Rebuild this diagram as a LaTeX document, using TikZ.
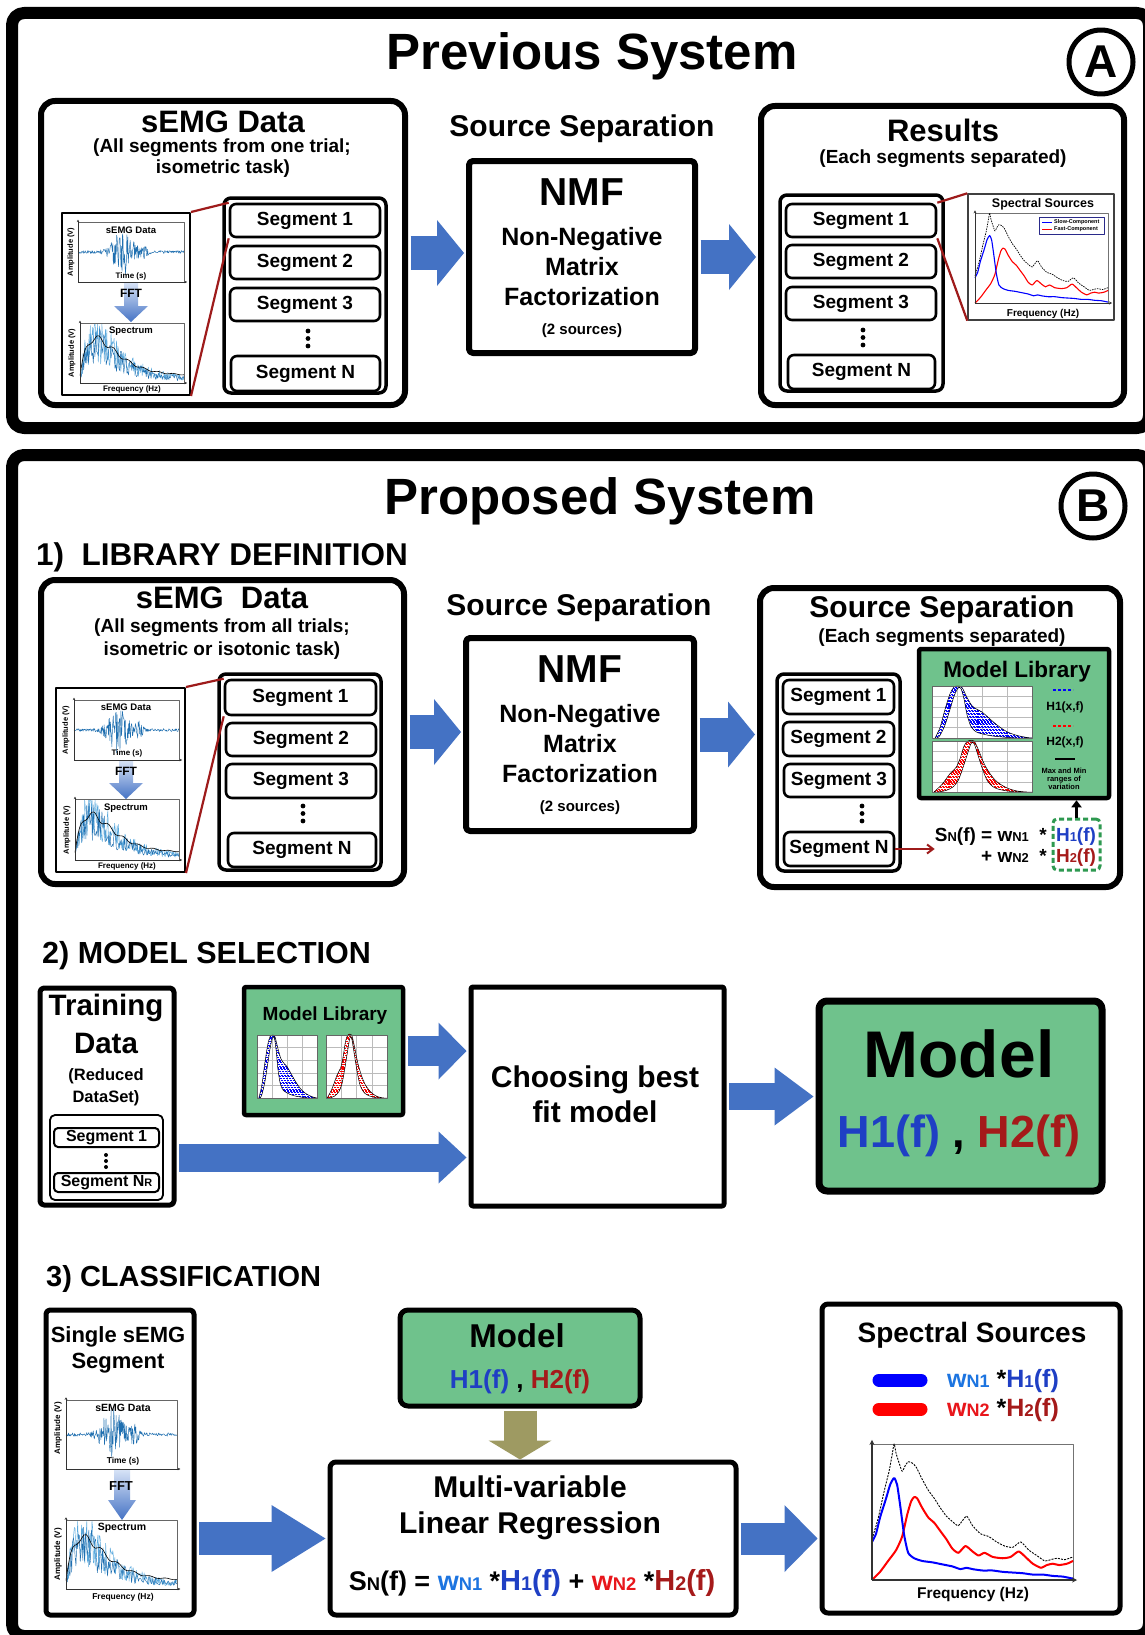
\documentclass[tikz,border=0pt]{standalone}
\usepackage{fontspec}
\setmainfont{Liberation Sans}
\usetikzlibrary{arrows.meta,calc}

\definecolor{arrowblue}{HTML}{4472C4}
\definecolor{fftlight}{HTML}{D6E2F6}
\definecolor{libgreen}{HTML}{6FC28C}
\definecolor{dashgreen}{HTML}{2E9950}
\definecolor{linkred}{HTML}{9E1B1B}
\definecolor{hblue}{HTML}{1F3FC4}
\definecolor{wblue}{HTML}{1C74E0}
\definecolor{hred}{HTML}{A51A1A}
\definecolor{wred}{HTML}{E8161B}
\definecolor{arrowolive}{HTML}{9E9A62}
\definecolor{sigblue}{HTML}{1F6FB0}
\definecolor{sigblue2}{HTML}{5AA9DD}
\definecolor{gridgray}{HTML}{BBBBBB}
\definecolor{legnavy}{HTML}{2A2A8A}

\newcommand\fsz[2]{\fontsize{#1}{#2}\selectfont\bfseries}
\newcommand\lowsc[1]{\scalebox{0.68}{#1}}

% rectangle node given by its border centre-line corners
\newcommand\boxnode[7][]{%
  \pgfmathsetmacro\rbW{#5-#3}\pgfmathsetmacro\rbH{#6-#4}%
  \node[#1, minimum width=\rbW pt, minimum height=\rbH pt, inner sep=0pt] (#2) at ({(#3+#5)/2},{(#4+#6)/2}) {#7};}

% raw sEMG trace: x-left, y-bottom, width, height, seed
\newcommand\emgpanel[5]{%
  \begin{scope}[shift={(#1,#2)}, xscale=#3, yscale=-#4]
    \pgfmathsetseed{#5}
    \draw[sigblue, line width=0.45pt] plot[domain=0:1, samples=220]
      (\x,{0.5+(0.025+0.36*exp(-((\x-0.42)/0.11)^2)+0.12*exp(-((\x-0.62)/0.04)^2))*rand});
    \draw[black!60, line width=0.6pt] (0,0) rectangle (1,1);
    \draw[black!80, line width=0.6pt, -{Stealth[length=2.5pt,width=2.5pt]}] (0,0) -- (0,1.04);
    \draw[black!80, line width=0.6pt, -{Stealth[length=2.5pt,width=2.5pt]}] (0,0) -- (1.03,0);
  \end{scope}}

% amplitude spectrum: x-left, y-bottom, width, height, seed
\newcommand\specpanel[5]{%
  \begin{scope}[shift={(#1,#2)}, xscale=#3, yscale=-#4]
    \pgfmathsetseed{#5}
    \draw[sigblue2, line width=0.45pt] plot[domain=0.005:1, samples=170]
      (\x,{min(0.98,spenv(\x)*(1+0.55*rand))});
    \draw[sigblue, line width=0.45pt] plot[domain=0.005:1, samples=130]
      (\x,{min(0.98,spenv(\x)*(0.85+0.45*rand))});
    \draw[black, line width=0.6pt] plot[smooth, domain=0:1, samples=50]
      (\x,{0.05+spenv(\x)*(0.95+0.08*sin(\x*2500))});
    \draw[black!60, line width=0.6pt] (0,0) rectangle (1,1);
    \draw[black!80, line width=0.6pt, -{Stealth[length=2.5pt,width=2.5pt]}] (0,0) -- (0,1.04);
    \draw[black!80, line width=0.6pt, -{Stealth[length=2.5pt,width=2.5pt]}] (0,0) -- (1.03,0);
  \end{scope}}

% shaded FFT arrow: centre x, top, tip, shaft half width, head half width, head length
\newcommand\fftarrow[6]{%
  \shade[top color=fftlight, bottom color=arrowblue]
    ({#1-#4},#2) -- ({#1+#4},#2) -- ({#1+#4},{#3-#6}) -- ({#1+#5},{#3-#6})
    -- (#1,#3) -- ({#1-#5},{#3-#6}) -- ({#1-#4},{#3-#6}) -- cycle;}

% variation bands of the two spectral models (outer envelope, then inner envelope back)
\newcommand\bandA[1]{\path[#1]
  plot[smooth,tension=0.5] coordinates {(0.03,0) (0.08,0.2) (0.13,0.55) (0.18,0.85) (0.22,0.98) (0.26,1)
    (0.3,0.97) (0.35,0.78) (0.4,0.62) (0.45,0.55) (0.5,0.5) (0.56,0.4) (0.65,0.25) (0.75,0.12) (0.85,0.05)
    (0.95,0.01) (1,0)}
  -- plot[smooth,tension=0.5] coordinates {(1,0) (0.85,0) (0.7,0.02) (0.6,0.04) (0.5,0.08) (0.44,0.12)
    (0.39,0.22) (0.35,0.45) (0.32,0.75) (0.29,0.95) (0.26,0.96) (0.22,0.8) (0.18,0.55) (0.13,0.25)
    (0.08,0.05) (0.05,0)}
  -- cycle;}
\newcommand\bandB[1]{\path[#1]
  plot[smooth,tension=0.5] coordinates {(0.02,0) (0.1,0.15) (0.18,0.36) (0.24,0.48) (0.28,0.65) (0.32,0.9)
    (0.36,1) (0.42,1) (0.47,0.8) (0.52,0.56) (0.58,0.36) (0.65,0.2) (0.75,0.08) (0.85,0.02) (0.95,0) (1,0)}
  -- plot[smooth,tension=0.5] coordinates {(1,0) (0.85,0) (0.72,0.03) (0.63,0.08) (0.56,0.2) (0.51,0.42)
    (0.46,0.72) (0.42,0.95) (0.39,0.95) (0.35,0.72) (0.3,0.42) (0.26,0.22) (0.21,0.1) (0.14,0.03) (0.06,0)}
  -- cycle;}

% model library chart: x-left, y-bottom, width, height, colour, band
\newcommand\libplot[6]{%
  \begin{scope}[shift={(#1,#2)}, xscale=#3, yscale=-#4]
    \fill[white] (0,0) rectangle (1,1);
    \foreach \g in {0.25,0.5,0.75} \draw[gridgray, line width=0.4pt] (\g,0) -- (\g,1);
    \foreach \g in {0.2,0.4,0.6,0.8} \draw[gridgray, line width=0.4pt] (0,\g) -- (1,\g);
    \begin{scope}
      #6{clip}
      \foreach \h [count=\i] in {0,0.028,...,1.02}{
        \pgfmathsetmacro\hph{mod(\i,3)*0.95}
        \draw[#5, line width=1.1pt, dash pattern=on 2pt off 0.9pt, dash phase=\hph pt] (0,\h) -- (1,\h);}
    \end{scope}
    #6{draw=black, line width=0.5pt}
    \draw[black!60, line width=0.6pt] (0,0) rectangle (1,1);
  \end{scope}}

% separated spectral sources
\newcommand\slowcurve[1]{\draw[#1] plot[smooth, tension=0.35] coordinates {(0,0.28) (0.02,0.34) (0.04,0.46)
  (0.07,0.6) (0.09,0.7) (0.11,0.75) (0.125,0.7) (0.14,0.55) (0.16,0.33) (0.18,0.2) (0.21,0.16) (0.25,0.14)
  (0.3,0.13) (0.35,0.115) (0.4,0.1) (0.44,0.08) (0.47,0.09) (0.5,0.08) (0.55,0.07) (0.6,0.07) (0.65,0.06)
  (0.7,0.055) (0.75,0.05) (0.8,0.04) (0.85,0.04) (0.9,0.03) (0.95,0.025) (1,0.01)};}
\newcommand\fastcurve[1]{\draw[#1] plot[smooth, tension=0.35] coordinates {(0,0) (0.04,0.06) (0.08,0.14)
  (0.12,0.22) (0.15,0.32) (0.175,0.48) (0.195,0.58) (0.21,0.61) (0.225,0.6) (0.25,0.53) (0.28,0.46)
  (0.31,0.42) (0.34,0.36) (0.37,0.3) (0.4,0.23) (0.43,0.2) (0.465,0.25) (0.5,0.21) (0.53,0.18) (0.56,0.2)
  (0.6,0.17) (0.65,0.16) (0.69,0.17) (0.73,0.21) (0.77,0.16) (0.8,0.12) (0.84,0.09) (0.87,0.11) (0.9,0.12)
  (0.93,0.11) (0.97,0.12) (1,0.14)};}
\newcommand\sumcurve[1]{\draw[#1] plot[smooth, tension=0.35] coordinates {(0,0.3) (0.03,0.45) (0.06,0.65)
  (0.085,0.8) (0.1,0.92) (0.11,1.0) (0.12,0.93) (0.135,0.86) (0.15,0.8) (0.165,0.84) (0.18,0.87) (0.2,0.86)
  (0.22,0.83) (0.25,0.74) (0.28,0.66) (0.31,0.6) (0.34,0.53) (0.37,0.47) (0.4,0.43) (0.43,0.4) (0.47,0.47)
  (0.5,0.4) (0.54,0.34) (0.58,0.32) (0.62,0.28) (0.66,0.25) (0.7,0.24) (0.74,0.28) (0.78,0.22) (0.82,0.18)
  (0.86,0.14) (0.89,0.15) (0.92,0.16) (0.96,0.15) (1,0.17)};}

\begin{document}
\begin{tikzpicture}[x=1pt, y=-1pt, line join=round,
  declare function={spenv(\t)=0.08+0.65*(\t/0.15)*exp(1-\t/0.15);},
  frame/.style={draw=black, line width=12pt, rounded corners=12pt},
  bigbox/.style={draw=black, line width=6pt, rounded corners=14pt, fill=white},
  sqbox/.style={draw=black, line width=5pt, rounded corners=4pt, fill=white},
  stackbox/.style={draw=black, line width=3.5pt, rounded corners=7pt},
  segbox/.style={draw=black, line width=2.6pt, rounded corners=6pt, font=\fsz{19}{22}},
  smallseg/.style={draw=black, line width=2pt, rounded corners=4pt, font=\fsz{16}{19}},
  thinstack/.style={draw=black, line width=1.8pt, rounded corners=5pt},
  insetbox/.style={draw=black, line width=2pt, fill=white},
  thinbox/.style={draw=black!75, line width=1.4pt, fill=white},
  libbox/.style={draw=black, line width=4.5pt, fill=libgreen, rounded corners=2pt},
  link/.style={draw=linkred, line width=2.2pt},
  txt/.style={inner sep=0pt, anchor=base},
  lbl/.style={inner sep=0pt},
  letterring/.style={circle, draw=black, line width=5pt, minimum size=64pt, inner sep=0pt, font=\fsz{46}{46}},
  barrow/.style n args={3}{draw=arrowblue, line width=#1pt, shorten <=2.5pt, shorten >=2pt,
    -{Triangle[length=#2pt, width=#3pt, line width=0pt]}},
  oarrow/.style={draw=arrowolive, line width=33pt, shorten <=2pt,
    -{Triangle[length=19pt, width=63pt, line width=0pt]}},
  dotfill/.style={fill=black}]

\useasboundingbox (0,0) rectangle (1145,1635);
\fill[white] (0,0) rectangle (1145,1635);

% ---------------- frames
\draw[frame] (12,13) rectangle (1149,428);
\draw[frame] (12,455) rectangle (1149,1636);

% ================= A: previous system
\node[txt, font=\fsz{51}{60}] (titleA) at (592,70) {Previous System};
\node[letterring] (markA) at (1101,62) {A};

% sEMG data
\boxnode[bigbox]{semgA}{41}{101}{405}{405}{}
\node[txt, font=\fsz{31}{36}] (semgAt) at (223,132) {sEMG Data};
\node[txt, font=\fsz{19}{22}] (semgAs1) at (222,153) {(All segments from one trial;};
\node[txt, font=\fsz{19}{22}] (semgAs2) at (223,173) {isometric task)};
\boxnode[insetbox]{insA}{62}{213}{190}{395}{}
\emgpanel{78}{282}{106}{60}{3}
\node[lbl, font=\fsz{9.5}{11}] (insAe) at (131,230) {sEMG Data};
\node[lbl, font=\fsz{8}{9}] (insAt) at (131,276) {Time (s)};
\node[lbl, rotate=90, font=\fsz{7.5}{9}] (insAa) at (71,252) {Amplitude (V)};
\fftarrow{131}{283}{322}{7}{17}{16}
\node[lbl, font=\fsz{12}{14}] (insAf) at (131,293) {FFT};
\specpanel{80}{383}{104}{60}{5}
\node[lbl, font=\fsz{9.5}{11}] (insAs) at (131,331) {Spectrum};
\node[lbl, font=\fsz{8}{9}] (insAq) at (132,389) {Frequency (Hz)};
\node[lbl, rotate=90, font=\fsz{7.5}{9}] (insAb) at (72,353) {Amplitude (V)};

\boxnode[stackbox]{stackA}{224}{198}{386}{393}{}
\boxnode[segbox]{segA1}{230}{204}{380}{237}{Segment 1}
\boxnode[segbox]{segA2}{230}{246}{380}{279}{Segment 2}
\boxnode[segbox]{segA3}{230}{288}{380}{321}{Segment 3}
\boxnode[segbox]{segAN}{231}{356}{380}{391}{Segment N}
\fill[dotfill] (308,331) circle[radius=2.4pt] (308,338.5) circle[radius=2.4pt] (308,346) circle[radius=2.4pt];
\draw[link] (insA.north east) -- (segA1.north west);
\draw[link] (insA.south east) -- (segA1.south west);

% NMF
\node[txt, font=\fsz{30}{36}] (ssA) at (582,137) {Source Separation};
\boxnode[sqbox, line width=6pt]{nmfA}{469}{161}{695}{353}{}
\node[txt, font=\fsz{39}{44}] (nmfAt) at (582,205) {NMF};
\node[txt, font=\fsz{25}{30}] (nmfA1) at (582,245) {Non-Negative};
\node[txt, font=\fsz{25}{30}] (nmfA2) at (582,275) {Matrix};
\node[txt, font=\fsz{25}{30}] (nmfA3) at (582,305) {Factorization};
\node[txt, font=\fsz{15}{18}] (nmfA4) at (582,334) {(2 sources)};

% results
\boxnode[bigbox]{resA}{761}{106}{1124}{405}{}
\node[txt, font=\fsz{31}{36}] (resAt) at (943,142) {Results};
\node[txt, font=\fsz{19}{22}] (resAs) at (943,163) {(Each segments separated)};
\boxnode[stackbox]{stackR}{780}{195}{943}{391}{}
\boxnode[segbox]{segR1}{786}{204}{936}{237}{Segment 1}
\boxnode[segbox]{segR2}{786}{245}{936}{278}{Segment 2}
\boxnode[segbox]{segR3}{786}{287}{936}{320}{Segment 3}
\boxnode[segbox]{segRN}{788}{355}{935}{389}{Segment N}
\fill[dotfill] (863,330) circle[radius=2.4pt] (863,337.5) circle[radius=2.4pt] (863,345) circle[radius=2.4pt];
\boxnode[thinbox]{specA}{968}{194}{1114}{320}{}
\node[txt, font=\fsz{12.5}{15}] (specAt) at (1043,207.5) {Spectral Sources};
\begin{scope}[shift={(975,303)}, xscale=133, yscale=-90]
  \draw[black!55, line width=0.7pt] (0,0) rectangle (1,1);
  \sumcurve{black, line width=0.7pt, dash pattern=on 1.5pt off 1pt}
  \fastcurve{red, line width=1.1pt}
  \slowcurve{blue, line width=1.1pt}
  \draw[black!80, line width=0.8pt, -{Stealth[length=3pt,width=3pt]}] (0,0) -- (0,1.03);
  \draw[black!80, line width=0.8pt, -{Stealth[length=3pt,width=3pt]}] (0,0) -- (1.03,0);
\end{scope}
\boxnode[draw=legnavy, line width=0.7pt, fill=white]{legA}{1039}{217}{1104}{234}{}
\draw[blue, line width=1pt] (1042,222) -- (1052,222);
\node[lbl, anchor=west, font=\fsz{5.5}{6}] (legAs) at (1054,222) {Slow-Component};
\draw[red, line width=1pt] (1042,229) -- (1052,229);
\node[lbl, anchor=west, font=\fsz{5.5}{6}] (legAf) at (1054,229) {Fast-Component};
\node[txt, font=\fsz{10}{12}] (specAq) at (1043,316) {Frequency (Hz)};
\draw[link] (segR1.north east) -- (specA.north west);
\draw[link] (segR1.south east) -- (specA.south west);

\draw[barrow={34}{27}{66}] (semgA.east) -- (nmfA.west |- semgA.east);
\draw[barrow={34}{27}{66}] (nmfA.east) -- (resA.west |- nmfA.east);

% ================= B: proposed system
\node[txt, font=\fsz{51}{60}] (titleB) at (600,514) {Proposed System};
\node[letterring] (markB) at (1093,506) {B};

% ---- 1) library definition
\node[txt, anchor=base west, font=\fsz{31.5}{36}] (sec1) at (36,565) {1)\ \ LIBRARY DEFINITION};

\boxnode[bigbox]{semgB}{41}{580}{404}{884}{}
\node[txt, font=\fsz{31}{36}] (semgBt) at (222,608) {sEMG\ \ Data};
\node[txt, font=\fsz{19}{22}] (semgBs1) at (222,632) {(All segments from all trials;};
\node[txt, font=\fsz{19}{22}] (semgBs2) at (222,655) {isometric or isotonic task)};
\boxnode[insetbox]{insB}{56}{688}{185}{872}{}
\emgpanel{74}{760}{105}{60}{11}
\node[lbl, font=\fsz{9.5}{11}] (insBe) at (126,707) {sEMG Data};
\node[lbl, font=\fsz{8}{9}] (insBt) at (127,753) {Time (s)};
\node[lbl, rotate=90, font=\fsz{7.5}{9}] (insBa) at (66,730) {Amplitude (V)};
\fftarrow{126}{761}{799}{7}{17}{16}
\node[lbl, font=\fsz{12}{14}] (insBf) at (126,771) {FFT};
\specpanel{75}{860}{104}{61}{13}
\node[lbl, font=\fsz{9.5}{11}] (insBs) at (126,808) {Spectrum};
\node[lbl, font=\fsz{8}{9}] (insBq) at (127,866) {Frequency (Hz)};
\node[lbl, rotate=90, font=\fsz{7.5}{9}] (insBb) at (67,830) {Amplitude (V)};

\boxnode[stackbox]{stackB}{219}{674}{381}{870}{}
\boxnode[segbox]{segB1}{225}{680}{376}{715}{Segment 1}
\boxnode[segbox]{segB2}{226}{723}{376}{756}{Segment 2}
\boxnode[segbox]{segB3}{226}{764}{376}{798}{Segment 3}
\boxnode[segbox]{segBN}{228}{833}{376}{867}{Segment N}
\fill[dotfill] (303,806) circle[radius=2.4pt] (303,813.5) circle[radius=2.4pt] (303,821) circle[radius=2.4pt];
\draw[link] (insB.north east) -- (segB1.north west);
\draw[link] (insB.south east) -- (segB1.south west);

\node[txt, font=\fsz{30}{36}] (ssB) at (579,615) {Source Separation};
\boxnode[sqbox, line width=6pt]{nmfB}{466}{638}{694}{831}{}
\node[txt, font=\fsz{39}{44}] (nmfBt) at (580,682) {NMF};
\node[txt, font=\fsz{25}{30}] (nmfB1) at (580,722) {Non-Negative};
\node[txt, font=\fsz{25}{30}] (nmfB2) at (580,752) {Matrix};
\node[txt, font=\fsz{25}{30}] (nmfB3) at (580,782) {Factorization};
\node[txt, font=\fsz{15}{18}] (nmfB4) at (580,811) {(2 sources)};

\boxnode[bigbox]{resB}{760}{588}{1120}{887}{}
\node[txt, font=\fsz{30}{36}] (resBt) at (942,617) {Source Separation};
\node[txt, font=\fsz{19}{22}] (resBs) at (942,642) {(Each segments separated)};
\boxnode[stackbox]{stackS}{777}{674}{900}{871}{}
\boxnode[segbox]{segS1}{783}{680}{894}{714}{Segment 1}
\boxnode[segbox]{segS2}{783}{722}{894}{756}{Segment 2}
\boxnode[segbox]{segS3}{784}{764}{894}{797}{Segment 3}
\boxnode[segbox]{segSN}{784}{832}{894}{866}{Segment N}
\fill[dotfill] (862,806) circle[radius=2.4pt] (862,813.5) circle[radius=2.4pt] (862,821) circle[radius=2.4pt];

\boxnode[libbox]{libR}{919}{649}{1109}{798}{}
\node[txt, font=\fsz{22.5}{26}] (libRt) at (1017,677) {Model Library};
\libplot{932}{738}{100}{52}{blue}{\bandA}
\libplot{932}{792}{100}{51}{red}{\bandB}
\draw[blue, line width=2.2pt, dash pattern=on 3pt off 2pt] (1053,690) -- (1073,690);
\node[txt, font=\fsz{12}{14}] (libRh1) at (1065,710) {H1(x,f)};
\draw[red, line width=2.2pt, dash pattern=on 3pt off 2pt] (1053,726) -- (1073,726);
\node[txt, font=\fsz{12}{14}] (libRh2) at (1065,745) {H2(x,f)};
\draw[black, line width=2.5pt] (1055,759) -- (1075,759);
\node[txt, font=\fsz{7.5}{8}] (libRm1) at (1064,773) {Max and Min};
\node[txt, font=\fsz{7.5}{8}] (libRm2) at (1064,781) {ranges of};
\node[txt, font=\fsz{7.5}{8}] (libRm3) at (1064,789) {variation};

\node[txt, anchor=base east, font=\fsz{19}{22}] (eqL1) at (1047,841) {S\lowsc{N}(f) = w\lowsc{N1}\ \ *};
\node[txt, anchor=base east, font=\fsz{19}{22}] (eqL2) at (1047,862) {+ w\lowsc{N2}\ \ *};
\boxnode[draw=dashgreen, line width=3pt, dash pattern=on 5pt off 3pt, rounded corners=4pt]{dashb}{1053}{819}{1100}{870}{}
\node[txt, font=\fsz{19}{22}, text=hblue] (eqH1) at (1076,841) {H\lowsc{1}(f)};
\node[txt, font=\fsz{19}{22}, text=hred] (eqH2) at (1076,862) {H\lowsc{2}(f)};
\draw[black, line width=3pt, -{Triangle[length=7pt,width=10pt]}] (dashb.north) -- (dashb.north |- libR.south);
\draw[linkred, line width=2pt, -{Straight Barb[length=6pt,width=9pt]}] (segSN.east) -- (eqL1.west |- segSN.east);

\draw[barrow={34}{27}{66}] (semgB.east) -- (nmfB.west |- semgB.east);
\draw[barrow={34}{27}{66}] (nmfB.east) -- (resB.west |- nmfB.east);

% ---- 2) model selection
\node[txt, anchor=base west, font=\fsz{30.5}{36}] (sec2) at (42,963) {2) MODEL SELECTION};

\boxnode[sqbox]{train}{40}{988}{174}{1205}{}
\node[txt, font=\fsz{29.5}{34}] (trainT1) at (106,1015) {Training};
\node[txt, font=\fsz{29.5}{34}] (trainT2) at (106,1053) {Data};
\node[txt, font=\fsz{16.5}{20}] (trainT3) at (106,1080) {(Reduced};
\node[txt, font=\fsz{16.5}{20}] (trainT4) at (106,1102) {DataSet)};
\boxnode[thinstack]{tstack}{50}{1115}{163}{1200}{}
\boxnode[smallseg]{tseg1}{54}{1128}{159}{1147}{Segment 1}
\boxnode[smallseg]{tsegN}{54}{1173}{159}{1192}{Segment N\lowsc{R}}
\fill[dotfill] (106,1155) circle[radius=2pt] (106,1161) circle[radius=2pt] (106,1167) circle[radius=2pt];

\boxnode[libbox]{libS}{244}{987}{403}{1115}{}
\node[txt, font=\fsz{19}{22}] (libSt) at (325,1020) {Model Library};
\libplot{257}{1098}{60}{63}{blue}{\bandA}
\libplot{326}{1098}{61}{63}{red}{\bandB}

\boxnode[sqbox, rounded corners=2pt]{choose}{471}{987}{724}{1206}{}
\node[txt, font=\fsz{30}{36}] (chooseT1) at (595,1087) {Choosing best};
\node[txt, font=\fsz{30}{36}] (chooseT2) at (595,1122) {fit model};

\boxnode[libbox, line width=7pt, rounded corners=8pt]{modelB}{819}{1001}{1102}{1191}{}
\node[txt, font=\fsz{66}{70}] (modelBt) at (959,1077) {Model};
\node[txt, font=\fsz{45}{50}] (modelBh) at (959,1147) {\textcolor{hblue}{H1(f)} , \textcolor{hred}{H2(f)}};

\draw[barrow={30}{28}{57}] (libS.east) -- (choose.west |- libS.east);
\draw[barrow={28}{28}{52}] (train.east |- tstack.center) -- (choose.west |- tstack.center);
\draw[barrow={27}{39}{58}] (choose.east) -- (modelB.west |- choose.east);

% ---- 3) classification
\node[txt, anchor=base west, font=\fsz{29}{34}] (sec3) at (46,1286) {3) CLASSIFICATION};

\boxnode[sqbox]{single}{46}{1310}{194}{1615}{}
\node[txt, font=\fsz{22}{26}] (singleT1) at (118,1342) {Single sEMG};
\node[txt, font=\fsz{22}{26}] (singleT2) at (118,1368) {Segment};
\emgpanel{66}{1469}{111}{69}{17}
\node[lbl, font=\fsz{10.5}{12}] (insCe) at (123,1408) {sEMG Data};
\node[lbl, font=\fsz{8.5}{10}] (insCt) at (123,1461) {Time (s)};
\node[lbl, rotate=90, font=\fsz{8}{9}] (insCa) at (58,1428) {Amplitude (V)};
\fftarrow{122}{1470}{1520}{8}{14}{20}
\node[lbl, font=\fsz{13}{15}] (insCf) at (121,1486) {FFT};
\specpanel{66}{1589}{111}{69}{19}
\node[lbl, font=\fsz{10.5}{12}] (insCs) at (122,1528) {Spectrum};
\node[lbl, font=\fsz{8.5}{10}] (insCq) at (123,1597) {Frequency (Hz)};
\node[lbl, rotate=90, font=\fsz{8}{9}] (insCb) at (58,1554) {Amplitude (V)};

\boxnode[libbox, line width=5pt, rounded corners=8pt]{modelC}{400}{1310}{640}{1406}{}
\node[txt, font=\fsz{33}{38}] (modelCt) at (517,1347) {Model};
\node[txt, font=\fsz{26}{30}] (modelCh) at (520,1388) {\textcolor{hblue}{H1(f)} , \textcolor{hred}{H2(f)}};

\boxnode[sqbox, rounded corners=6pt]{regr}{330}{1462}{736}{1615}{}
\node[txt, font=\fsz{30}{36}] (regrT1) at (530,1497) {Multi-variable};
\node[txt, font=\fsz{30}{36}] (regrT2) at (530,1533) {Linear Regression};
\node[txt, font=\fsz{27}{30}] (regrEq) at (532,1590)
  {S\lowsc{N}(f) = \textcolor{wblue}{w\lowsc{N1}} *\textcolor{hblue}{\fontsize{29}{30}\selectfont H\lowsc{1}(f)}
   + \textcolor{wred}{w\lowsc{N2}} *\textcolor{hred}{\fontsize{29}{30}\selectfont H\lowsc{2}(f)}};

\boxnode[sqbox, rounded corners=6pt]{specC}{822}{1304}{1120}{1613}{}
\node[txt, font=\fsz{28}{32}] (specCt) at (972,1342) {Spectral Sources};
\draw[blue, line width=13pt, line cap=round] (879,1380) -- (921,1380);
\draw[red, line width=13pt, line cap=round] (879,1409) -- (921,1409);
\node[txt, anchor=base west, font=\fsz{25}{28}] (legC1) at (947,1387)
  {\textcolor{wblue}{w\scalebox{0.72}{N1}} *\textcolor{hblue}{H\lowsc{1}(f)}};
\node[txt, anchor=base west, font=\fsz{25}{28}] (legC2) at (947,1416)
  {\textcolor{wred}{w\scalebox{0.72}{N2}} *\textcolor{hred}{H\lowsc{2}(f)}};
\begin{scope}[shift={(872,1580)}, xscale=201, yscale=-136]
  \draw[black!55, line width=1pt] (0,0) rectangle (1,1);
  \sumcurve{black, line width=0.9pt, dash pattern=on 2pt off 1.2pt}
  \fastcurve{red, line width=2pt}
  \slowcurve{blue, line width=2pt}
  \draw[black!80, line width=1.2pt, -{Stealth[length=5pt,width=5pt]}] (0,0) -- (0,1.03);
  \draw[black!80, line width=1.2pt, -{Stealth[length=5pt,width=5pt]}] (0,0) -- (1.02,0);
\end{scope}
\node[txt, font=\fsz{15.5}{18}] (specCq) at (973,1598) {Frequency (Hz)};

\draw[oarrow] (modelC.south) -- (modelC.south |- regr.north);
\draw[barrow={33}{54}{67}] (single.east |- regr.center) -- (regr.west);
\draw[barrow={32}{33}{67}] (regr.east) -- (specC.west |- regr.east);

\end{tikzpicture}
\end{document}
